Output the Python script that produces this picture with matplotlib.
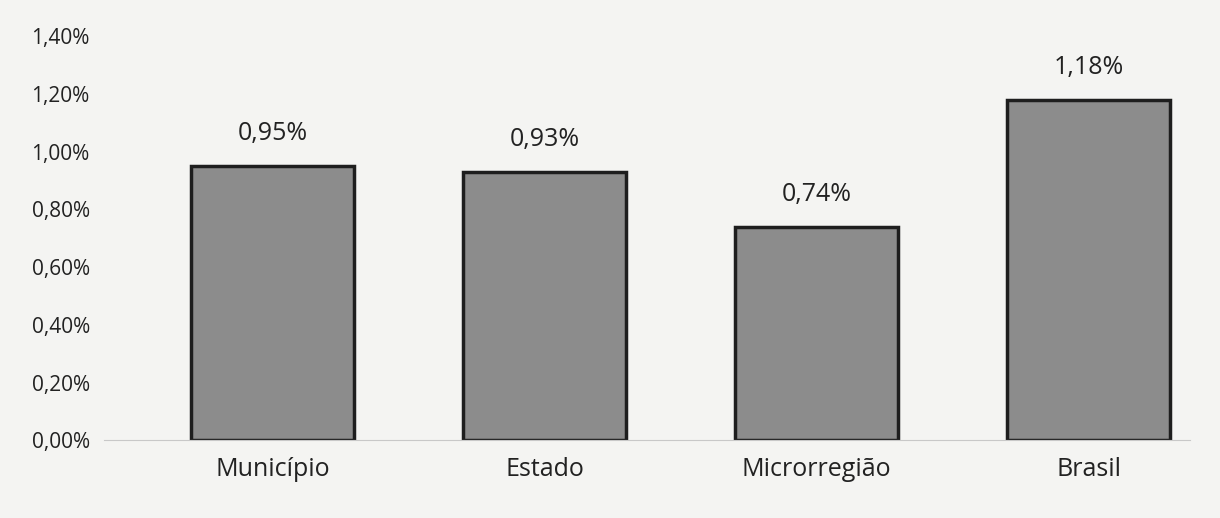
import matplotlib.pyplot as plt
from matplotlib.ticker import FuncFormatter

categories = ["Município", "Estado", "Microrregião", "Brasil"]
values = [0.95, 0.93, 0.74, 1.18]
value_labels = ["0,95%", "0,93%", "0,74%", "1,18%"]
yticks = [0.0, 0.2, 0.4, 0.6, 0.8, 1.0, 1.2, 1.4]

plt.rcParams['font.family'] = ['Open Sans', 'DejaVu Sans']

fig = plt.figure(figsize=(12.2, 5.18), dpi=100)
fig.patch.set_facecolor('#f4f4f2')
ax = fig.add_axes([0.085, 0.15, 0.89, 0.78])
ax.set_facecolor('#f4f4f2')

x = list(range(len(categories)))
bars = ax.bar(x, values, width=0.6, color='#8c8c8c', edgecolor='#1e1e1e', linewidth=2.5)
for xi, v, lab in zip(x, values, value_labels):
    ax.text(xi, v + 0.07, lab, ha='center', va='bottom', fontsize=18, color='#222222')

ax.set_xlim(-0.62, 3.37)
ax.set_ylim(0, 1.4)
ax.set_yticks(yticks)
ax.yaxis.set_major_formatter(FuncFormatter(lambda v, p: f"{v:.2f}%".replace('.', ',')))
ax.set_xticks(x)
ax.set_xticklabels(categories, fontsize=18, color='#222222')
ax.tick_params(axis='y', labelsize=15, colors='#222222', length=0, pad=10)
ax.tick_params(axis='x', length=0, pad=12)
for s in ['top', 'right', 'left']:
    ax.spines[s].set_visible(False)
ax.spines['bottom'].set_color('#c8c8c8')

fig.savefig('out.png', dpi=100, facecolor=fig.get_facecolor())
